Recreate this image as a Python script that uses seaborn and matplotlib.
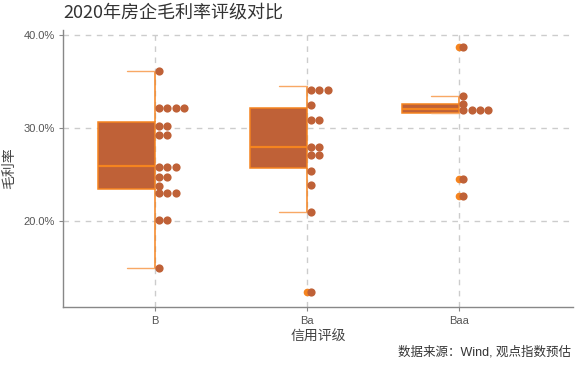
import numpy as np
import pandas as pd
import matplotlib
matplotlib.use("Agg")
import matplotlib.pyplot as plt
from matplotlib.ticker import PercentFormatter
import seaborn as sns

# gross margin (%) by credit rating
categories = ['B', 'Ba', 'Baa']
margin_B = [14.9, 19.9, 20.3, 22.65, 23.0, 23.45, 23.78, 24.7, 24.82, 25.6, 25.9,
            25.95, 28.9, 29.62, 29.84, 30.7, 31.9, 32.1, 32.3, 32.46, 36.1]
margin_Ba = [12.36, 20.9, 23.86, 25.4, 26.75, 27.45, 27.7, 28.16, 30.43, 31.27,
             32.43, 33.76, 34.1, 34.5]
margin_Baa = [22.63, 24.54, 31.6, 31.9, 32.0, 32.34, 32.54, 33.48, 38.78]

title = '2020年房企毛利率评级对比'
x_title = '信用评级'
y_title = '毛利率'
source = '数据来源：Wind, 观点指数预估'

brown = '#BF6137'
orange = '#F5841F'
cap_orange = '#F8A865'

rows = []
for i, (cat, vals) in enumerate(zip(categories, [margin_B, margin_Ba, margin_Baa])):
    for v in vals:
        rows.append({'rating': cat, 'pos': i, 'margin': v})
df = pd.DataFrame(rows)

# dot-density binning like a dotplot: bin width = data range / 30
binwidth = (df['margin'].max() - df['margin'].min()) / 30


def dot_bins(values, width):
    vals = sorted(values)
    out = []
    i = 0
    while i < len(vals):
        j = i
        while j < len(vals) and vals[j] < vals[i] + width:
            j += 1
        group = vals[i:j]
        center = (group[0] + group[-1]) / 2
        for k in range(len(group)):
            out.append((center, k))
        i = j
    return out


box_width = 0.375
dot_step = 0.054
dots = []
for i, cat in enumerate(categories):
    for center, k in dot_bins(df.loc[df['rating'] == cat, 'margin'], binwidth):
        dots.append({'x': i + dot_step / 2 + k * dot_step, 'y': center})
dots = pd.DataFrame(dots)
df['box_x'] = df['pos'] - box_width / 2

sns.set_style('ticks')
plt.rcParams['font.family'] = ['Liberation Sans', 'Noto Sans CJK SC']

fig = plt.figure(figsize=(5.8, 3.67), dpi=100)
ax = fig.add_axes([0.1086, 0.163, 0.88, 0.755])

sns.boxplot(data=df, x='box_x', y='margin', native_scale=True, width=box_width,
            color=brown, linewidth=1.1, whis=1.5, ax=ax,
            boxprops=dict(facecolor=brown, edgecolor=orange, linewidth=1.1, gid='box'),
            medianprops=dict(color=orange, linewidth=1.6, gid='median'),
            whiskerprops=dict(color=orange, linewidth=1.1, gid='whisker'),
            capprops=dict(color=cap_orange, linewidth=1.0, gid='cap'),
            flierprops=dict(marker='o', markerfacecolor=orange, markeredgecolor=orange,
                            markersize=4.5, gid='flier'))

# half boxplot: whiskers and outliers on the category line, caps to the left
half = box_width / 2
for line in ax.lines:
    gid = line.get_gid()
    xs = np.asarray(line.get_xdata(), dtype=float)
    if gid in ('whisker', 'flier'):
        line.set_xdata(xs + half)
    elif gid == 'cap':
        c = xs.mean()
        line.set_xdata([c, c + half])

sns.scatterplot(data=dots, x='x', y='y', color=brown, s=35, linewidth=0,
                zorder=4, ax=ax, legend=False)

ax.set_xlim(-0.605, 2.75)
ax.set_ylim(10.7, 40.55)
ax.set_xticks(range(len(categories)))
ax.set_xticklabels(categories)
ax.set_yticks([20, 30, 40])
ax.yaxis.set_major_formatter(PercentFormatter(xmax=100, decimals=1))
ax.set_axisbelow(True)
ax.grid(True, linestyle=(0, (4, 4)), color='#cccccc', linewidth=1)

for side in ['top', 'right']:
    ax.spines[side].set_visible(False)
for side in ['left', 'bottom']:
    ax.spines[side].set_color('#888888')
    ax.spines[side].set_linewidth(1)
ax.tick_params(length=3, width=0.8, color='#888888', labelcolor='#555555',
               labelsize=8, pad=3)

ax.set_xlabel(x_title, fontsize=10, color='#444444', labelpad=3)
ax.set_ylabel(y_title, fontsize=10, color='#444444', labelpad=5)

fig.text(0.1086, 1 - 12.5 / 367, title, fontsize=13, color='#333333',
         ha='left', va='center', family=['Noto Sans CJK SC', 'DejaVu Sans'])
fig.text(571 / 580, 1 - 352 / 367, source, fontsize=9, color='#333333',
         ha='right', va='center')

fig.savefig('out.png', dpi=100)
